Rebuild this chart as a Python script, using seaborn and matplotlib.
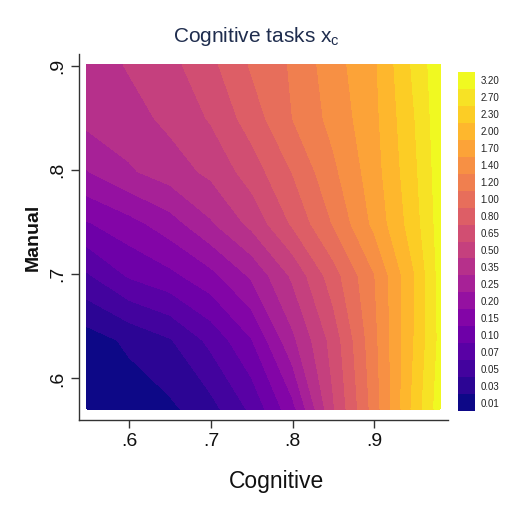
import numpy as np
import matplotlib
matplotlib.use("Agg")
import matplotlib.pyplot as plt
from matplotlib.colors import ListedColormap, BoundaryNorm
from matplotlib.ticker import FuncFormatter
import seaborn as sns

# =========================
# Data
# =========================
cognitive = [0.548, 0.60, 0.65, 0.70, 0.75, 0.80, 0.85, 0.90, 0.95, 0.98]
manual = [0.571, 0.637, 0.699, 0.749, 0.799, 0.850, 0.901]

# position inside the colour scale (0 = lowest band, 20 = top of last band)
# one row per manual value, bottom -> top
band_rows = [
    [0.10, 0.40, 0.80, 1.64, 3.22, 5.67, 9.90, 13.43, 17.38, 19.50],
    [0.50, 1.20, 1.91, 3.28, 4.95, 7.76, 10.40, 13.69, 17.08, 19.20],
    [2.85, 4.11, 4.73, 5.68, 7.17, 9.18, 11.55, 13.94, 17.00, 19.30],
    [4.90, 5.63, 6.55, 7.87, 9.28, 11.14, 13.07, 15.24, 17.59, 19.40],
    [6.95, 7.87, 8.51, 9.23, 10.48, 12.04, 13.78, 15.55, 17.81, 19.50],
    [8.30, 8.60, 9.25, 10.10, 11.48, 13.00, 14.33, 15.71, 18.00, 19.60],
    [8.40, 9.09, 9.68, 10.73, 12.12, 13.12, 14.59, 15.82, 18.25, 19.67],
]

level_labels = ["0.01", "0.03", "0.05", "0.07", "0.10", "0.15", "0.20",
                "0.25", "0.35", "0.50", "0.65", "0.80", "1.00", "1.20",
                "1.40", "1.70", "2.00", "2.30", "2.70", "3.20"]

x_ticks = [0.6, 0.7, 0.8, 0.9]
y_ticks = [0.6, 0.7, 0.8, 0.9]

# =========================
# Plot
# =========================
sns.set_theme(style="white")
plt.rcParams["font.family"] = ["Liberation Sans", "DejaVu Sans"]
plt.rcParams["mathtext.default"] = "regular"

n_bands = len(level_labels)
levels = np.arange(n_bands + 1)
plasma = sns.color_palette("plasma", as_cmap=True)
cmap = ListedColormap(plasma(np.linspace(0, 1, n_bands)))
norm = BoundaryNorm(levels, n_bands)

fig = plt.figure(figsize=(5.12, 5.11), dpi=100)
ax = fig.add_axes([0.154, 0.178, 0.721, 0.716])

X, Y = np.meshgrid(cognitive, manual)
Z = np.array(band_rows)
cs = ax.contourf(X, Y, Z, levels=levels, cmap=cmap, norm=norm)
# hide the thin white seams between bands
cs.set_edgecolor("face")
cs.set_linewidth(0.6)

ax.set_xlim(0.538, 0.99)
ax.set_ylim(0.56, 0.9115)
ax.set_xticks(x_ticks)
ax.set_yticks(y_ticks)
fmt = FuncFormatter(lambda v, p: ("%.1f" % v).lstrip("0"))
ax.xaxis.set_major_formatter(fmt)
ax.yaxis.set_major_formatter(fmt)
ax.tick_params(axis="both", which="major", direction="out", length=6, width=1,
               color="#333333", labelsize=14, labelcolor="#111111", pad=3,
               bottom=True, left=True)
for lab in ax.get_yticklabels():
    lab.set_rotation(90)
    lab.set_va("center")

sns.despine(ax=ax)
for side in ["left", "bottom"]:
    ax.spines[side].set_color("#333333")
    ax.spines[side].set_linewidth(1)

fig.text(0.5, 0.928, "Cognitive tasks x$_{c}$", ha="center", va="center",
         fontsize=15, color="#1f2d4e")
fig.text(277 / 512, 1 - 481 / 511, "Cognitive", ha="center", va="center",
         fontsize=16.5, color="#111111")
fig.text(33 / 512, 1 - 237 / 511, "Manual", ha="center", va="center",
         rotation=90, fontsize=14, fontweight="bold", color="#111111")

cax = fig.add_axes([458 / 512, 1 - 411 / 511, 17 / 512, 339 / 511])
cbar = fig.colorbar(cs, cax=cax, ticks=levels[:-1] + 0.5)
cbar.ax.minorticks_off()
cbar.ax.set_yticklabels(level_labels)
cbar.ax.tick_params(which="both", length=0, labelsize=7, pad=4,
                    labelcolor="#222222")
cbar.outline.set_visible(False)

fig.savefig("out.png", dpi=100)
